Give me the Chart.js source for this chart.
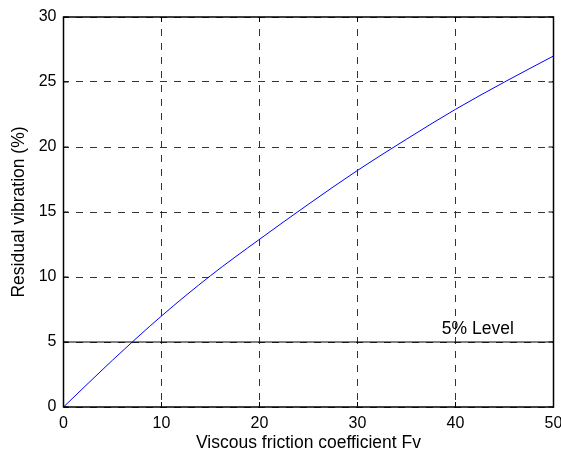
<!DOCTYPE html>
<html>
<head>
<meta charset="utf-8">
<script src="https://cdn.jsdelivr.net/npm/chart.js@4/dist/chart.umd.min.js"></script>
<style>
  html, body { margin: 0; padding: 0; background: #fff; }
  #chart { display: block; }
</style>
</head>
<body>
<canvas id="chart" width="561" height="455"></canvas>
<script>
// Fv samples and the residual vibration read at each one
const frictionFv = [0, 5, 10, 15, 20, 25, 30, 35, 40, 45, 50];
const residualVibration = [0, 3.6, 7.0, 10.1, 12.9, 15.6, 18.2, 20.6, 22.9, 25.0, 27.0];
// horizontal reference level (%)
const levelValue = 5;
const levelText = '5% Level';
const xTicks = [0, 10, 20, 30, 40, 50];
const yTicks = [0, 5, 10, 15, 20, 25, 30];

const FONT = '"Liberation Sans", Arial, Helvetica, sans-serif';

const curve = frictionFv.map((fv, i) => ({ x: fv, y: residualVibration[i] }));
const levelLine = [
  { x: xTicks[0], y: levelValue },
  { x: xTicks[xTicks.length - 1], y: levelValue }
];

// box around the axes, small inward ticks, and the level caption
const boxPlugin = {
  id: 'boxPlugin',
  afterDatasetsDraw(chart) {
    const { ctx, chartArea: a, scales: { x, y } } = chart;
    ctx.save();
    ctx.strokeStyle = '#000';
    ctx.lineWidth = 1;
    ctx.beginPath();
    xTicks.forEach(v => {
      const px = x.getPixelForValue(v);
      ctx.moveTo(px, a.bottom); ctx.lineTo(px, a.bottom - 5);
      ctx.moveTo(px, a.top); ctx.lineTo(px, a.top + 5);
    });
    yTicks.forEach(v => {
      const py = y.getPixelForValue(v);
      ctx.moveTo(a.left, py); ctx.lineTo(a.left + 5, py);
      ctx.moveTo(a.right, py); ctx.lineTo(a.right - 5, py);
    });
    ctx.stroke();
    ctx.lineWidth = 1.5;
    ctx.strokeRect(a.left, a.top, a.right - a.left, a.bottom - a.top);

    ctx.fillStyle = '#000';
    ctx.font = '17.5px ' + FONT;
    ctx.textAlign = 'left';
    ctx.textBaseline = 'alphabetic';
    ctx.fillText(levelText, x.getPixelForValue(38.6), y.getPixelForValue(5.6));
    ctx.restore();
  }
};

new Chart(document.getElementById('chart'), {
  type: 'line',
  data: {
    datasets: [
      {
        label: 'Residual vibration',
        data: curve,
        borderColor: '#0000ff',
        borderWidth: 1,
        pointRadius: 0,
        fill: false,
        cubicInterpolationMode: 'monotone'
      },
      {
        label: levelText,
        data: levelLine,
        borderColor: '#000',
        borderWidth: 1,
        pointRadius: 0,
        fill: false
      }
    ]
  },
  options: {
    responsive: false,
    animation: false,
    devicePixelRatio: 1,
    layout: { padding: { left: 0, top: 17, right: 7.5, bottom: 0 } },
    plugins: {
      legend: { display: false },
      tooltip: { enabled: false }
    },
    scales: {
      x: {
        type: 'linear',
        min: 0,
        max: 50,
        afterBuildTicks: s => { s.ticks = xTicks.map(v => ({ value: v })); },
        afterFit: s => { s.height = 48; s.paddingLeft = 0; s.paddingRight = 0; },
        grid: { color: '#333', lineWidth: 1, drawTicks: false },
        border: { display: false, dash: [7, 7], dashOffset: 2 },
        ticks: {
          color: '#000',
          font: { family: FONT, size: 16 },
          padding: 7,
          maxRotation: 0,
          autoSkip: false
        },
        title: {
          display: true,
          text: 'Viscous friction coefficient Fv',
          color: '#000',
          font: { family: FONT, size: 17.5 },
          padding: { top: 0, bottom: 1 }
        }
      },
      y: {
        type: 'linear',
        min: 0,
        max: 30,
        afterBuildTicks: s => { s.ticks = yTicks.map(v => ({ value: v })); },
        afterFit: s => { s.width = 63.5; s.paddingTop = 0; s.paddingBottom = 0; },
        grid: { color: '#333', lineWidth: 1, drawTicks: false },
        border: { display: false, dash: [7, 7], dashOffset: 2 },
        ticks: {
          color: '#000',
          font: { family: FONT, size: 16 },
          padding: 7,
          autoSkip: false
        },
        title: {
          display: true,
          text: 'Residual vibration (%)',
          color: '#000',
          font: { family: FONT, size: 17.5 },
          padding: { top: 9, bottom: 0 }
        }
      }
    }
  },
  plugins: [boxPlugin]
});
</script>
</body>
</html>
